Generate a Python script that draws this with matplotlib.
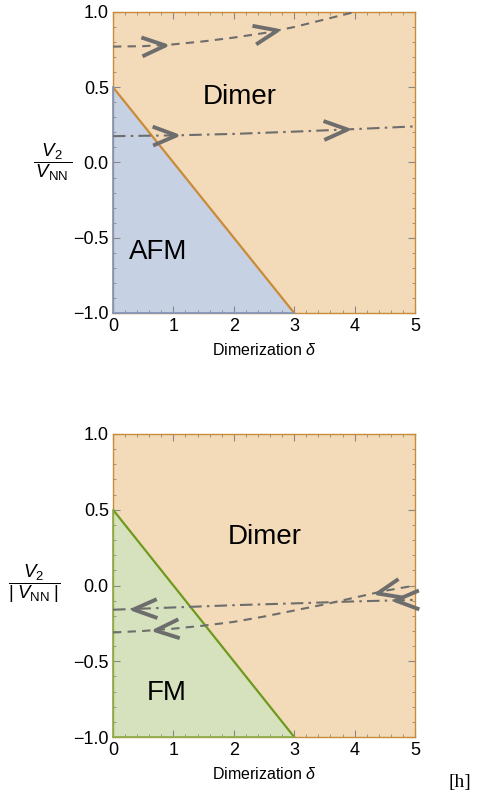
import matplotlib
matplotlib.use("Agg")
import matplotlib.pyplot as plt
import numpy as np
from matplotlib.markers import MarkerStyle
from matplotlib.path import Path
from matplotlib.transforms import Affine2D

plt.rcParams['font.family'] = ['Liberation Sans', 'DejaVu Sans']
plt.rcParams['mathtext.fontset'] = 'custom'
plt.rcParams['mathtext.rm'] = 'Liberation Sans'
plt.rcParams['mathtext.it'] = 'Liberation Sans:italic'
plt.rcParams['mathtext.bf'] = 'Liberation Sans:bold'

# ---------------- data ----------------
x_ticks = [0, 1, 2, 3, 4, 5]
y_ticks = [-1.0, -0.5, 0.0, 0.5, 1.0]

boundary_x = [0, 3]
boundary_y = [0.5, -1.0]

# top panel flows (AFM case)
top_dash_x = [0, 0.5, 1, 1.5, 2, 2.5, 3, 3.5, 4]
top_dash_y = [0.77, 0.773, 0.785, 0.805, 0.83, 0.86, 0.90, 0.95, 1.0]
top_dash_arrows = [0.86, 2.72]

top_dd_x = [0, 1, 2, 3, 4, 5]
top_dd_y = [0.175, 0.18, 0.19, 0.205, 0.222, 0.24]
top_dd_arrows = [1.05, 3.88]

# bottom panel flows (FM case)
bot_dash_x = [0, 0.5, 1, 1.5, 2, 2.5, 3, 3.5, 4, 4.5, 5]
bot_dash_y = [-0.31, -0.30, -0.285, -0.265, -0.24, -0.205, -0.165, -0.125, -0.08, -0.035, 0.0]
bot_dash_arrows = [0.69, 4.37]

bot_dd_x = [0, 1, 2, 3, 4, 5]
bot_dd_y = [-0.16, -0.145, -0.13, -0.118, -0.105, -0.095]
bot_dd_arrows = [0.33, 4.67]

# ---------------- styles ----------------
ORANGE_FILL = '#F3DAB8'
ORANGE_LINE = '#C98B3A'
BLUE_FILL = '#C7D1E4'
BLUE_EDGE = '#7F95C2'
GREEN_FILL = '#D6E2BD'
GREEN_LINE = '#6E9A1F'
GREEN_EDGE = '#8AAE4A'
GRAY = '#6D6D6D'

fig = plt.figure(figsize=(4.78, 7.98), dpi=100)
ax1 = fig.add_axes([113/478, 1-313/798, 302/478, 301/798])
ax2 = fig.add_axes([113/478, 1-737/798, 302/478, 303/798])

chev = Path([(-1, 0.4), (0, 0), (-1, -0.4)], [Path.MOVETO, Path.LINETO, Path.LINETO])


def draw_chevrons(ax, xs, ys, pos, direction):
    for xp in pos:
        yp = np.interp(xp, xs, ys)
        dx = 0.05
        y1 = np.interp(xp - dx, xs, ys)
        y2 = np.interp(xp + dx, xs, ys)
        p1 = ax.transData.transform((xp - dx, y1))
        p2 = ax.transData.transform((xp + dx, y2))
        ang = np.degrees(np.arctan2(p2[1] - p1[1], p2[0] - p1[0]))
        if direction < 0:
            ang += 180
        ms = MarkerStyle(chev, transform=Affine2D().rotate_deg(ang))
        ax.plot([xp], [yp], marker=ms, markersize=34, markeredgewidth=2.8,
                markerfacecolor='none', markeredgecolor=GRAY, linestyle='none',
                zorder=6, clip_on=False)


def setup(ax, low_fill, low_edge, line_color):
    ax.set_xlim(0, 5)
    ax.set_ylim(-1, 1)
    ax.set_facecolor(ORANGE_FILL)
    ax.fill_between(boundary_x, boundary_y, -1, color=low_fill, linewidth=0, zorder=1)
    ax.plot(boundary_x, boundary_y, color=line_color, lw=1.6, zorder=3)
    for s in ax.spines.values():
        s.set_color(ORANGE_LINE)
        s.set_linewidth(1.0)
    ax.plot([0, 0], [-1, 0.5], color=low_edge, lw=1.2, zorder=4, clip_on=False)
    ax.plot([0, 3], [-1, -1], color=low_edge, lw=1.2, zorder=4, clip_on=False)
    ax.set_xticks(x_ticks)
    ax.set_yticks(y_ticks)
    ax.set_xticklabels([str(t) for t in x_ticks])
    ax.set_yticklabels(['\u22121.0', '\u22120.5', '0.0', '0.5', '1.0'])
    ax.set_xticks(np.arange(0, 5.01, 0.2), minor=True)
    ax.set_yticks(np.arange(-1, 1.01, 0.1), minor=True)
    ax.tick_params(which='both', direction='in', top=True, right=True, color='#888888',
                   labelsize=13)
    ax.tick_params(axis='x', which='major', pad=3.5)
    ax.tick_params(axis='y', which='major', pad=3)
    ax.tick_params(which='major', length=5, width=0.8)
    ax.tick_params(which='minor', length=2.5, width=0.6)
    ax.set_xlabel(r'Dimerization $\delta$', fontsize=11.5, labelpad=5)


setup(ax1, BLUE_FILL, BLUE_EDGE, ORANGE_LINE)
setup(ax2, GREEN_FILL, GREEN_EDGE, GREEN_LINE)

ax1.plot(top_dash_x, top_dash_y, color=GRAY, lw=1.5, ls=(0, (4, 3)), zorder=5)
ax1.plot(top_dd_x, top_dd_y, color=GRAY, lw=1.5, ls=(0, (6, 2.5, 1.2, 2.5)), zorder=5)
draw_chevrons(ax1, top_dash_x, top_dash_y, top_dash_arrows, +1)
draw_chevrons(ax1, top_dd_x, top_dd_y, top_dd_arrows, +1)

ax2.plot(bot_dash_x, bot_dash_y, color=GRAY, lw=1.5, ls=(0, (4, 3)), zorder=5)
ax2.plot(bot_dd_x, bot_dd_y, color=GRAY, lw=1.5, ls=(0, (6, 2.5, 1.2, 2.5)), zorder=5)
draw_chevrons(ax2, bot_dash_x, bot_dash_y, bot_dash_arrows, -1)
draw_chevrons(ax2, bot_dd_x, bot_dd_y, bot_dd_arrows, -1)

ax1.text(2.1, 0.435, 'Dimer', fontsize=20, ha='center', va='center', zorder=7)
ax1.text(0.75, -0.595, 'AFM', fontsize=20, ha='center', va='center', zorder=7)
ax2.text(2.52, 0.32, 'Dimer', fontsize=20, ha='center', va='center', zorder=7)
ax2.text(0.89, -0.71, 'FM', fontsize=20, ha='center', va='center', zorder=7)

ax1.set_ylabel(r'$\dfrac{\,V_2\,}{\,V_{\rm NN}\,}$', rotation=0, fontsize=13.5, va='center', ha='center')
ax1.yaxis.set_label_coords(-0.20, 0.50)
ax2.set_ylabel(r'$\dfrac{V_2}{|\;V_{\rm NN}\;|}$', rotation=0, fontsize=13.5, va='center', ha='center')
ax2.yaxis.set_label_coords(-0.26, 0.505)

fig.text(460/478, 1-782/798, '[h]', fontsize=14, ha='center', va='center',
         family=['Liberation Serif', 'DejaVu Serif'])

fig.savefig('out.png', dpi=100)
